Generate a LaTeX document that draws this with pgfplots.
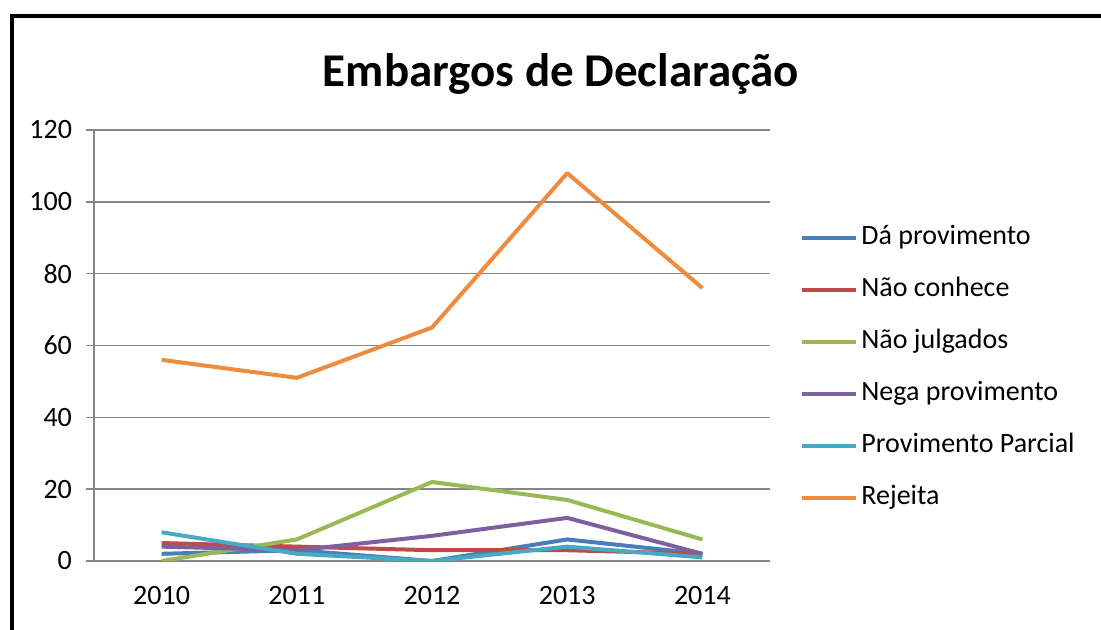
\documentclass[border=0pt]{standalone}
\usepackage{pgfplots}
\pgfplotsset{compat=1.18}
\usepackage{fontspec}
\setmainfont{Carlito}
\definecolor{cblue}{HTML}{4A7EBB}
\definecolor{cred}{HTML}{BE4B48}
\definecolor{cgreen}{HTML}{98B954}
\definecolor{cpurple}{HTML}{7D60A0}
\definecolor{caqua}{HTML}{46AAC5}
\definecolor{corange}{HTML}{F08A3C}
\definecolor{gridgray}{HTML}{868686}
\begin{document}
\begin{tikzpicture}
\useasboundingbox (0,0) rectangle (550.5pt,315pt);
\clip (0,0) rectangle (550.5pt,315pt);
\draw[line width=2pt, black] (6pt,-20pt) rectangle (580pt,307pt);
\begin{axis}[
  at={(47pt,34.5pt)}, anchor=south west,
  scale only axis, width=338pt, height=215.5pt,
  xmin=-0.5, xmax=4.5, ymin=0, ymax=120,
  xtick={0,1,2,3,4}, xticklabels={2010,2011,2012,2013,2014},
  ytick={0,20,...,120},
  axis x line*=bottom, axis y line*=left,
  axis line style={gridgray, line width=0.75pt, -},
  ymajorgrids, grid style={gridgray, line width=0.75pt},
  major tick style={gridgray, line width=0.75pt},
  tick align=outside,
  x tick style={draw=none},
  major tick length=4pt,
  extra x ticks={-0.5,0.5,1.5,2.5,3.5,4.5},
  extra x tick labels={},
  extra x tick style={grid=none, tick style={gridgray, line width=0.75pt, draw=gridgray}, major tick length=4pt},
  /pgf/number format/assume math mode=true,
  tick label style={font=\fontsize{14pt}{16pt}\selectfont},
  yticklabel style={xshift=-3.5pt},
  xticklabel style={yshift=-5pt},
  legend style={draw=none, fill=none, at={(1,0.448)}, anchor=west, xshift=15pt,
    font=\fontsize{14pt}{16pt}\selectfont, row sep=10pt, inner sep=0pt,
    nodes={text height=10pt, text depth=3pt, inner sep=1.5pt},
    /tikz/every even column/.append style={column sep=0pt}},
  legend cell align=left,
  legend image code/.code={\draw[#1, line width=2pt] (0pt,0pt) -- (27pt,0pt);},
  every axis plot/.append style={line width=2pt, line join=round},
]
\addplot[cblue, no marks] coordinates {(0,2) (1,3) (2,0) (3,6) (4,2)};
\addlegendentry{Dá provimento}
\addplot[cred, no marks] coordinates {(0,5) (1,4) (2,3) (3,3) (4,2)};
\addlegendentry{Não conhece}
\addplot[cgreen, no marks] coordinates {(0,0) (1,6) (2,22) (3,17) (4,6)};
\addlegendentry{Não julgados}
\addplot[cpurple, no marks] coordinates {(0,4) (1,3) (2,7) (3,12) (4,2)};
\addlegendentry{Nega provimento}
\addplot[caqua, no marks] coordinates {(0,8) (1,2) (2,0) (3,4) (4,1)};
\addlegendentry{Provimento Parcial}
\addplot[corange, no marks] coordinates {(0,56) (1,51) (2,65) (3,108) (4,76)};
\addlegendentry{Rejeita}
\end{axis}
\node[font=\bfseries\fontsize{23.5pt}{26pt}\selectfont] at (280.5pt,278pt) {Embargos de Declaração};
\end{tikzpicture}
\end{document}
